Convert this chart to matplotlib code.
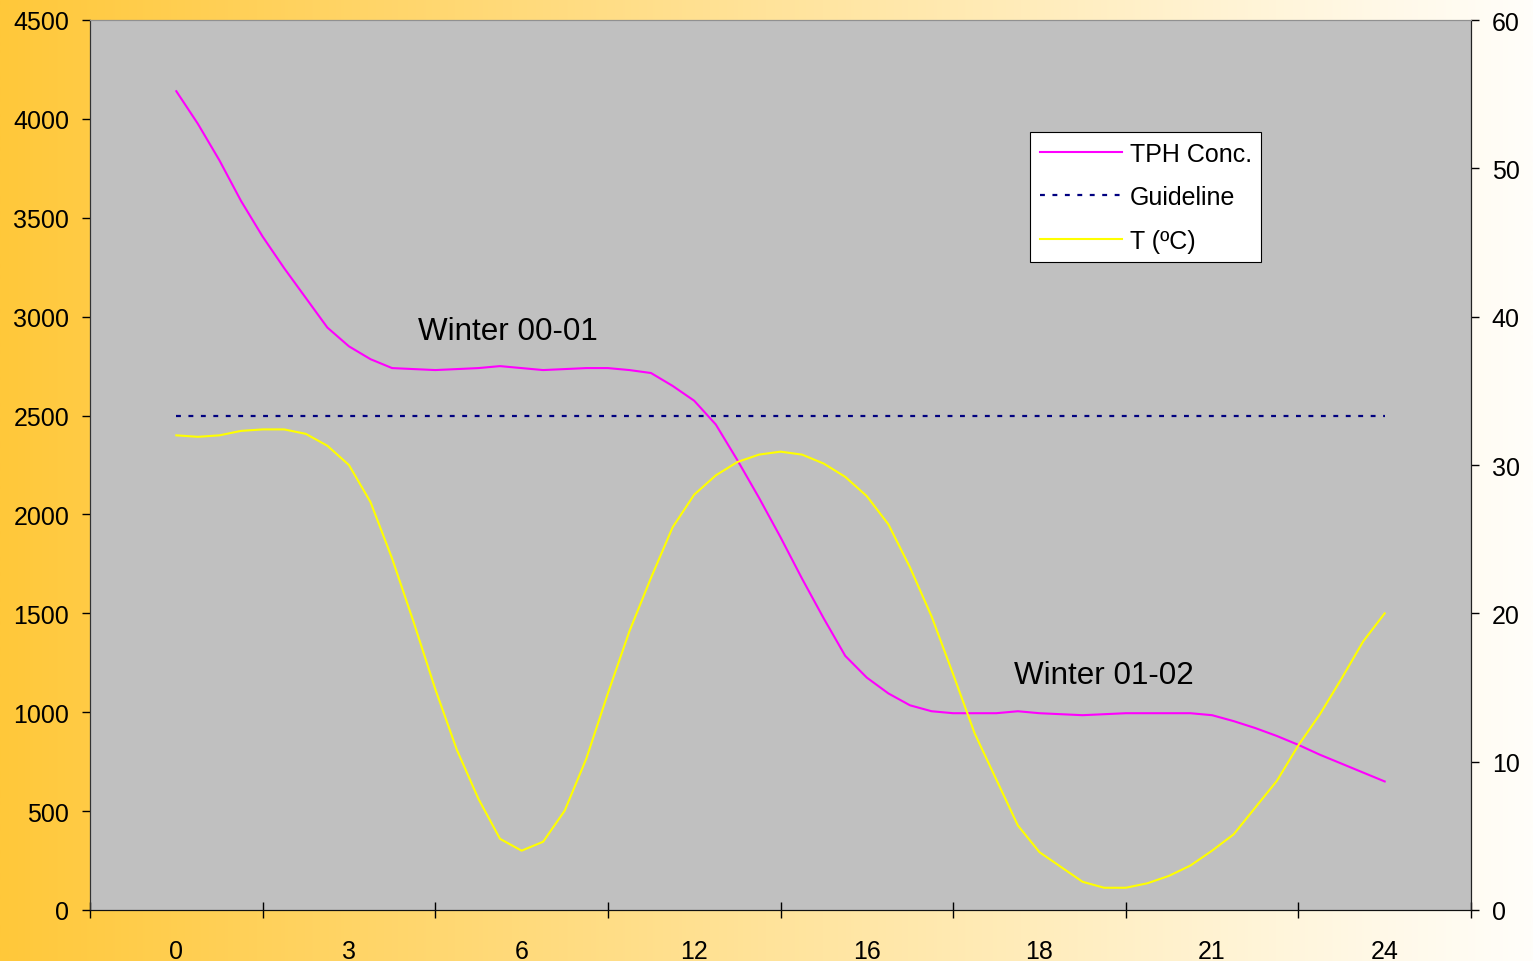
import numpy as np
import matplotlib.pyplot as plt
from matplotlib.lines import Line2D

plt.rcParams['font.family'] = ['Liberation Sans', 'DejaVu Sans']

# category labels on the x axis, 8 readings per category
cat_labels = ['0', '3', '6', '12', '16', '18', '21', '24']
steps_per_cat = 8

tph_conc = [4140, 3975, 3790, 3585, 3405, 3245, 3095, 2945, 2850, 2785,
            2740, 2735, 2730, 2735, 2740, 2750, 2740, 2730, 2735, 2740,
            2740, 2730, 2715, 2650, 2575, 2455, 2275, 2085, 1885, 1675,
            1475, 1285, 1175, 1095, 1035, 1005, 995, 995, 995, 1005,
            995, 990, 985, 990, 995, 995, 995, 995, 985, 955,
            920, 880, 835, 785, 740, 695, 650]
temp_c = [32.0, 31.9, 32.0, 32.3, 32.4, 32.4, 32.1, 31.3, 30.0, 27.5,
          23.7, 19.4, 14.9, 10.8, 7.5, 4.8, 4.0, 4.6, 6.7, 10.2,
          14.6, 18.8, 22.4, 25.8, 28.0, 29.3, 30.2, 30.7, 30.9, 30.7,
          30.1, 29.2, 27.9, 26.0, 23.1, 19.8, 15.9, 11.9, 8.8, 5.7,
          3.9, 2.9, 1.9, 1.5, 1.5, 1.8, 2.3, 3.0, 4.0, 5.1,
          6.9, 8.7, 11.1, 13.2, 15.6, 18.1, 20.0]
guideline = 2500

x = np.arange(len(tph_conc)) / steps_per_cat

W, H = 1533, 962
fig = plt.figure(figsize=(W / 100, H / 100), dpi=100)

# background gradient (orange-yellow -> white)
bg = fig.add_axes([0, 0, 1, 1], zorder=-1)
t = np.linspace(0, 1, 512)
c0 = np.array([255, 200, 58]) / 255
c1 = np.array([255, 254, 250]) / 255
grad = (c0[None, :] * (1 - t[:, None]) + c1[None, :] * t[:, None])[None, :, :]
bg.imshow(grad, aspect='auto', extent=[0, 1, 0, 1])
bg.axis('off')

ax = fig.add_axes([90 / W, 51 / H, 1381 / W, 890 / H], zorder=1)
ax.set_facecolor('#C0C0C0')
ax2 = ax.twinx()

l_tph, = ax.plot(x, tph_conc, color='#FF00FF', lw=1.5)
l_guide, = ax.plot([x[0], x[-1]], [guideline, guideline], color='#000080',
                   lw=1.6, linestyle=(0, (2.2, 3.4)))
l_temp, = ax2.plot(x, temp_c, color='#FFFF00', lw=1.5)

ax.set_xlim(-0.5, len(cat_labels) - 0.5)
ax.set_ylim(0, 4500)
ax.set_yticks(np.arange(0, 4501, 500))
ax2.set_ylim(0, 60)
ax2.set_yticks(np.arange(0, 61, 10))

ax.set_xticks(np.arange(len(cat_labels) + 1) - 0.5)
ax.set_xticklabels([])
ax.set_xticks(np.arange(len(cat_labels)), minor=True)
ax.set_xticklabels(cat_labels, minor=True)
ax.tick_params(axis='x', which='major', direction='inout', length=12, width=1)
ax.tick_params(axis='x', which='minor', length=0, pad=21, labelsize=18)
ax.tick_params(axis='y', direction='out', length=6, width=1, pad=9, labelsize=18)
ax2.tick_params(axis='y', direction='out', length=6, width=1, pad=9, labelsize=18)

for a in (ax, ax2):
    a.spines['top'].set_color('#909090')
    a.spines['left'].set_color('#333333')
    a.spines['right'].set_color('#222222')
    a.spines['bottom'].set_color('#111111')

ax.text(1.4, 2927, 'Winter 00-01', fontsize=22.6, va='center')
ax.text(4.85, 1188, 'Winter 01-02', fontsize=22.6, va='center')

leg = ax2.legend([l_tph, l_guide, l_temp], ['TPH Conc.', 'Guideline', 'T (ºC)'],
                 loc='upper left', bbox_to_anchor=(1030 / W, 1 - 133 / H),
                 bbox_transform=fig.transFigure, fontsize=18, frameon=True,
                 fancybox=False, framealpha=1, edgecolor='black',
                 borderaxespad=0, handlelength=3.3, handletextpad=0.3,
                 labelspacing=0.78, borderpad=0.38)
leg.get_frame().set_linewidth(0.8)

fig.savefig('out.png', dpi=100)
